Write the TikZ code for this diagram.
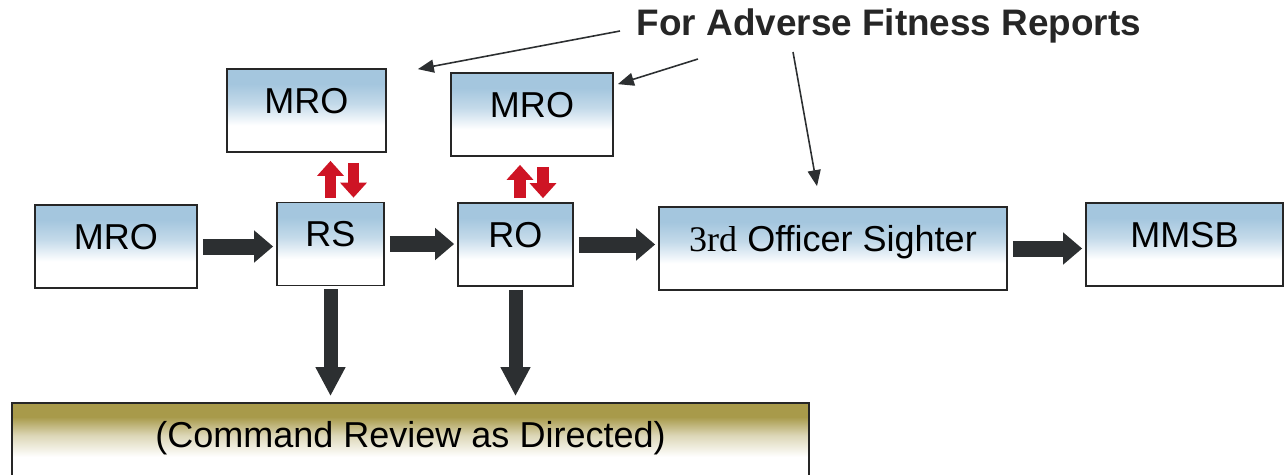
\documentclass[tikz,border=0pt]{standalone}
\usepackage{fontspec}
\setmainfont{Liberation Sans}
\newfontfamily\serifpart{Liberation Serif}
\usetikzlibrary{arrows.meta}

\definecolor{boxblue}{RGB}{164,198,222}
\definecolor{barolive}{RGB}{168,154,74}
\definecolor{arrowgray}{RGB}{44,47,49}
\definecolor{flowred}{RGB}{206,20,36}
\pgfdeclareverticalshading{blueshade}{100bp}{color(0bp)=(white); color(41bp)=(white);
  color(54bp)=(boxblue!65!white); color(66bp)=(boxblue); color(100bp)=(boxblue)}
\pgfdeclareverticalshading{oliveshade}{100bp}{color(0bp)=(white); color(40bp)=(white);
  color(54bp)=(barolive!40!white); color(66bp)=(barolive); color(100bp)=(barolive)}

\begin{document}
\begin{tikzpicture}[x=0.02cm,y=-0.02cm,
  box/.style={draw=black!85,line width=1pt,shading=blueshade,inner xsep=0pt,inner ysep=0pt,
    text height=0.88cm,text depth=0.78cm,font=\fontsize{20.5}{24}\selectfont},
  fat/.style={draw=arrowgray,line width=0.32cm,-{Triangle[width=0.62cm,length=0.38cm]},
    shorten <=0.1cm,shorten >=0.06cm},
  down/.style={draw=arrowgray,line width=0.28cm,-{Triangle[width=0.56cm,length=0.58cm]},
    shorten <=0.06cm,shorten >=0.12cm},
  redup/.style={draw=flowred,line width=0.23cm,-{Triangle[width=0.52cm,length=0.3cm]}},
  thinarrow/.style={draw=arrowgray,line width=0.9pt,-{Triangle[width=0.26cm,length=0.32cm]}}]
  \useasboundingbox (0,0) rectangle (1287,474);

  \node[box,minimum width=3.24cm] (mro) at (116,246.5) {MRO};
  \node[box,minimum width=2.14cm] (rs) at (330.5,244) {RS};
  \node[box,minimum width=2.3cm] (ro) at (515.5,244.5) {RO};
  \node[box,minimum width=6.96cm] (sighter) at (833,248.5) {{\serifpart 3rd} Officer Sighter};
  \node[box,minimum width=3.94cm] (mmsb) at (1184.5,244.5) {MMSB};
  \node[box,minimum width=3.18cm] (mrors) at (306.5,110.5) {MRO};
  \node[box,minimum width=3.24cm] (mroro) at (532,114.5) {MRO};
  \node[box,shading=oliveshade,minimum width=15.94cm,text depth=0.66cm] (review) at (410.5,441.5)
    {(Command Review as Directed)};
  \node[font=\fontsize{21}{25}\selectfont\bfseries,text=black!85] (adverse) at (889,26)
    {For Adverse Fitness Reports};

  \draw[fat] (mro.east) -- (mro.east -| rs.west);
  \draw[fat] (rs.east) -- (rs.east -| ro.west);
  \draw[fat] (ro.east) -- (ro.east -| sighter.west);
  \draw[fat] (sighter.east) -- (sighter.east -| mmsb.west);
  \draw[down] (rs.south) -- (rs.south |- review.north);
  \draw[down] (ro.south) -- (ro.south |- review.north);

  \draw[redup,shorten <=0.08cm,shorten >=0.16cm] (rs.north) -- (rs.north |- mrors.south);
  \draw[redup,shorten <=0.2cm,shorten >=0.08cm]
    ([xshift=0.46cm]rs.north |- mrors.south) -- ([xshift=0.46cm]rs.north);
  \draw[redup,shorten <=0.08cm,shorten >=0.16cm]
    ([xshift=0.09cm]ro.north) -- ([xshift=0.09cm]ro.north |- mroro.south);
  \draw[redup,shorten <=0.2cm,shorten >=0.08cm]
    ([xshift=0.55cm]ro.north |- mroro.south) -- ([xshift=0.55cm]ro.north);

  \coordinate (fromA) at (620,31);
  \coordinate (fromB) at (698,59);
  \coordinate (fromC) at (793,52);
  \draw[thinarrow] (fromA) -- ([xshift=0.62cm,yshift=-0.02cm]mrors.north east);
  \draw[thinarrow] (fromB) -- ([xshift=0.08cm,yshift=-0.24cm]mroro.north east);
  \draw[thinarrow] (fromC) -- ([xshift=-0.32cm,yshift=0.4cm]sighter.north);
\end{tikzpicture}
\end{document}
